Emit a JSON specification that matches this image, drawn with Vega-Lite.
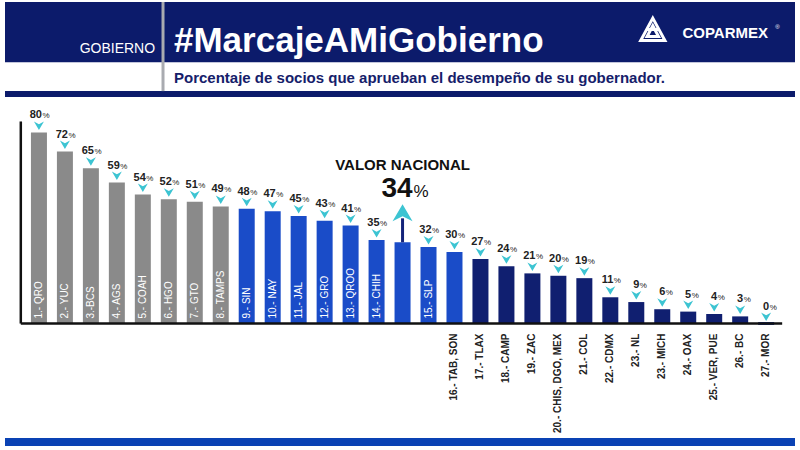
{
  "$schema": "https://vega.github.io/schema/vega-lite/v6.json",
  "width": 800,
  "height": 450,
  "autosize": {"type": "fit", "contains": "padding"},
  "padding": 0,
  "background": "white",
  "config": {"view": {"stroke": null}, "font": "Liberation Sans"},
  "datasets": {
    "estados": [
      {"i": 1, "estado": "1.- QRO", "valor": 80, "nivel": "alto"},
      {"i": 2, "estado": "2.- YUC", "valor": 72, "nivel": "alto"},
      {"i": 3, "estado": "3.-BCS", "valor": 65, "nivel": "alto"},
      {"i": 4, "estado": "4.- AGS", "valor": 59, "nivel": "alto"},
      {"i": 5, "estado": "5.- COAH", "valor": 54, "nivel": "alto"},
      {"i": 6, "estado": "6.- HGO", "valor": 52, "nivel": "alto"},
      {"i": 7, "estado": "7.- GTO", "valor": 51, "nivel": "alto"},
      {"i": 8, "estado": "8.- TAMPS", "valor": 49, "nivel": "alto"},
      {"i": 9, "estado": "9.- SIN", "valor": 48, "nivel": "medio"},
      {"i": 10, "estado": "10.- NAY", "valor": 47, "nivel": "medio"},
      {"i": 11, "estado": "11.- JAL", "valor": 45, "nivel": "medio"},
      {"i": 12, "estado": "12.- GRO", "valor": 43, "nivel": "medio"},
      {"i": 13, "estado": "13.- QROO", "valor": 41, "nivel": "medio"},
      {"i": 14, "estado": "14.- CHIH", "valor": 35, "nivel": "medio"},
      {"i": 15, "estado": "VALOR NACIONAL", "valor": 34, "nivel": "nacional"},
      {"i": 16, "estado": "15.- SLP", "valor": 32, "nivel": "medio"},
      {"i": 17, "estado": "16.- TAB, SON", "valor": 30, "nivel": "medio"},
      {"i": 18, "estado": "17.- TLAX", "valor": 27, "nivel": "bajo"},
      {"i": 19, "estado": "18.- CAMP", "valor": 24, "nivel": "bajo"},
      {"i": 20, "estado": "19.- ZAC", "valor": 21, "nivel": "bajo"},
      {"i": 21, "estado": "20.- CHIS, DGO, MEX", "valor": 20, "nivel": "bajo"},
      {"i": 22, "estado": "21.- COL", "valor": 19, "nivel": "bajo"},
      {"i": 23, "estado": "22.- CDMX", "valor": 11, "nivel": "bajo"},
      {"i": 24, "estado": "23.- NL", "valor": 9, "nivel": "bajo"},
      {"i": 25, "estado": "23.- MICH", "valor": 6, "nivel": "bajo"},
      {"i": 26, "estado": "24.- OAX", "valor": 5, "nivel": "bajo"},
      {"i": 27, "estado": "25.- VER, PUE", "valor": 4, "nivel": "bajo"},
      {"i": 28, "estado": "26.- BC", "valor": 3, "nivel": "bajo"},
      {"i": 29, "estado": "27.- MOR", "valor": 0, "nivel": "bajo"}
    ],
    "uno": [{}]
  },
  "data": {"name": "estados"},
  "layer": [
    {
      "data": {"name": "uno"},
      "mark": {"type": "rect", "color": "#0c1b6b"},
      "encoding": {
        "x": {"datum": -0.307, "type": "quantitative", "scale": {"domain": [-0.307, 30.111], "nice": false, "zero": false}, "axis": null},
        "x2": {"datum": 30.111},
        "y": {"datum": 134.58, "type": "quantitative", "scale": {"domain": [-52.92, 134.58], "nice": false, "zero": false}, "axis": null},
        "y2": {"datum": 109.38}
      }
    },
    {
      "data": {"name": "uno"},
      "mark": {"type": "rect", "color": "#0c1b6b"},
      "encoding": {
        "x": {"datum": -0.307, "type": "quantitative", "scale": {"domain": [-0.307, 30.111], "nice": false, "zero": false}, "axis": null},
        "x2": {"datum": 30.111},
        "y": {"datum": 97.29, "type": "quantitative", "scale": {"domain": [-52.92, 134.58], "nice": false, "zero": false}, "axis": null},
        "y2": {"datum": 94.79}
      }
    },
    {
      "data": {"name": "uno"},
      "mark": {"type": "rule", "color": "#a9abb0", "strokeWidth": 3},
      "encoding": {
        "x": {"datum": 5.777, "type": "quantitative", "scale": {"domain": [-0.307, 30.111], "nice": false, "zero": false}, "axis": null},
        "y": {"datum": 134.58, "type": "quantitative", "scale": {"domain": [-52.92, 134.58], "nice": false, "zero": false}, "axis": null},
        "y2": {"datum": 97.29}
      }
    },
    {
      "data": {"name": "uno"},
      "mark": {"type": "text", "text": "GOBIERNO", "color": "white", "fontSize": 14, "align": "right", "baseline": "alphabetic"},
      "encoding": {
        "x": {"datum": 5.4726, "type": "quantitative", "scale": {"domain": [-0.307, 30.111], "nice": false, "zero": false}, "axis": null},
        "y": {"datum": 113.33, "type": "quantitative", "scale": {"domain": [-52.92, 134.58], "nice": false, "zero": false}, "axis": null}
      }
    },
    {
      "data": {"name": "uno"},
      "mark": {"type": "text", "text": "#MarcajeAMiGobierno", "color": "white", "fontSize": 35, "fontWeight": "bold", "align": "left", "baseline": "alphabetic"},
      "encoding": {
        "x": {"datum": 6.2, "type": "quantitative", "scale": {"domain": [-0.307, 30.111], "nice": false, "zero": false}, "axis": null},
        "y": {"datum": 113.75, "type": "quantitative", "scale": {"domain": [-52.92, 134.58], "nice": false, "zero": false}, "axis": null}
      }
    },
    {
      "data": {"name": "uno"},
      "mark": {"type": "text", "text": "Porcentaje de socios que aprueban el desempeño de su gobernador.", "color": "#15206a", "fontSize": 15, "fontWeight": "bold", "align": "left", "baseline": "alphabetic"},
      "encoding": {
        "x": {"datum": 6.2, "type": "quantitative", "scale": {"domain": [-0.307, 30.111], "nice": false, "zero": false}, "axis": null},
        "y": {"datum": 100.83, "type": "quantitative", "scale": {"domain": [-52.92, 134.58], "nice": false, "zero": false}, "axis": null}
      }
    },
    {
      "data": {"name": "uno"},
      "mark": {"type": "point", "shape": "M0,-1 L0.95,0.75 L-0.95,0.75 Z M0,-0.4 L0.45,0.45 L-0.45,0.45 Z M-0.5,-0.1 L0.5,-0.1", "filled": false, "stroke": "white", "strokeWidth": 3, "size": 650, "opacity": 1},
      "encoding": {
        "x": {"datum": 24.636, "type": "quantitative", "scale": {"domain": [-0.307, 30.111], "nice": false, "zero": false}, "axis": null},
        "y": {"datum": 122.5, "type": "quantitative", "scale": {"domain": [-52.92, 134.58], "nice": false, "zero": false}, "axis": null}
      }
    },
    {
      "data": {"name": "uno"},
      "mark": {"type": "text", "text": "COPARMEX", "color": "white", "fontSize": 15, "fontWeight": "bold", "align": "left", "baseline": "alphabetic"},
      "encoding": {
        "x": {"datum": 25.777, "type": "quantitative", "scale": {"domain": [-0.307, 30.111], "nice": false, "zero": false}, "axis": null},
        "y": {"datum": 119.58, "type": "quantitative", "scale": {"domain": [-52.92, 134.58], "nice": false, "zero": false}, "axis": null}
      }
    },
    {
      "data": {"name": "uno"},
      "mark": {"type": "text", "text": "®", "color": "white", "fontSize": 6, "align": "left", "baseline": "alphabetic"},
      "encoding": {
        "x": {"datum": 29.35, "type": "quantitative", "scale": {"domain": [-0.307, 30.111], "nice": false, "zero": false}, "axis": null},
        "y": {"datum": 123.33, "type": "quantitative", "scale": {"domain": [-52.92, 134.58], "nice": false, "zero": false}, "axis": null}
      }
    },
    {
      "data": {"name": "uno"},
      "mark": {"type": "rect", "color": "#0a42b4"},
      "encoding": {
        "x": {"datum": -0.307, "type": "quantitative", "scale": {"domain": [-0.307, 30.111], "nice": false, "zero": false}, "axis": null},
        "x2": {"datum": 30.111},
        "y": {"datum": -47.92, "type": "quantitative", "scale": {"domain": [-52.92, 134.58], "nice": false, "zero": false}, "axis": null},
        "y2": {"datum": -51.25}
      }
    },
    {
      "mark": {"type": "bar", "width": 16},
      "encoding": {
        "x": {"field": "i", "type": "quantitative", "scale": {"domain": [-0.307, 30.111], "nice": false, "zero": false}, "axis": null},
        "y": {"field": "valor", "type": "quantitative", "scale": {"domain": [-52.92, 134.58], "nice": false, "zero": false}, "axis": null},
        "y2": {"datum": 0},
        "color": {"field": "nivel", "type": "nominal", "scale": {"domain": ["alto", "medio", "nacional", "bajo"], "range": ["#8a8a8a", "#1a4cc8", "#1a4cc8", "#101f70"]}, "legend": null},
        "stroke": {"field": "nivel", "type": "nominal", "scale": {"domain": ["alto", "medio", "nacional", "bajo"], "range": ["#8a8a8a", "#1a4cc8", "#1a4cc8", "#1e3a9a"]}, "legend": null},
        "strokeWidth": {"condition": {"test": "datum.valor === 0", "value": 3}, "value": 0}
      }
    },
    {
      "data": {"name": "uno"},
      "mark": {"type": "rule", "color": "#111111", "strokeWidth": 2.5},
      "encoding": {
        "x": {"datum": 0.3015, "type": "quantitative", "scale": {"domain": [-0.307, 30.111], "nice": false, "zero": false}, "axis": null},
        "y": {"datum": 84.58, "type": "quantitative", "scale": {"domain": [-52.92, 134.58], "nice": false, "zero": false}, "axis": null},
        "y2": {"datum": 0}
      }
    },
    {
      "data": {"name": "uno"},
      "mark": {"type": "rule", "color": "#111111", "strokeWidth": 2.5},
      "encoding": {
        "x": {"datum": 0.3015, "type": "quantitative", "scale": {"domain": [-0.307, 30.111], "nice": false, "zero": false}, "axis": null},
        "x2": {"datum": 29.617},
        "y": {"datum": 0, "type": "quantitative", "scale": {"domain": [-52.92, 134.58], "nice": false, "zero": false}, "axis": null}
      }
    },
    {
      "transform": [{"filter": "datum.nivel !== 'nacional'"}],
      "mark": {"type": "point", "shape": "M-1,-0.8 L0,-0.25 L1,-0.8 L0,0.9 Z", "filled": true, "color": "#3cc4d2", "size": 100, "opacity": 1, "yOffset": -7},
      "encoding": {
        "x": {"field": "i", "type": "quantitative", "scale": {"domain": [-0.307, 30.111], "nice": false, "zero": false}, "axis": null},
        "y": {"field": "valor", "type": "quantitative", "scale": {"domain": [-52.92, 134.58], "nice": false, "zero": false}, "axis": null}
      }
    },
    {
      "transform": [{"filter": "datum.nivel !== 'nacional'"}],
      "mark": {"type": "text", "fontSize": 11, "fontWeight": "bold", "color": "#222222", "align": "right", "baseline": "alphabetic", "dx": 3, "dy": -14},
      "encoding": {
        "x": {"field": "i", "type": "quantitative", "scale": {"domain": [-0.307, 30.111], "nice": false, "zero": false}, "axis": null},
        "y": {"field": "valor", "type": "quantitative", "scale": {"domain": [-52.92, 134.58], "nice": false, "zero": false}, "axis": null},
        "text": {"field": "valor", "type": "quantitative"}
      }
    },
    {
      "transform": [{"filter": "datum.nivel !== 'nacional'"}],
      "mark": {"type": "text", "text": "%", "fontSize": 8, "color": "#222222", "align": "left", "baseline": "alphabetic", "dx": 3.5, "dy": -14},
      "encoding": {
        "x": {"field": "i", "type": "quantitative", "scale": {"domain": [-0.307, 30.111], "nice": false, "zero": false}, "axis": null},
        "y": {"field": "valor", "type": "quantitative", "scale": {"domain": [-52.92, 134.58], "nice": false, "zero": false}, "axis": null}
      }
    },
    {
      "transform": [{"filter": "datum.i <= 16 && datum.nivel !== 'nacional'"}],
      "mark": {"type": "text", "fontSize": 10, "color": "white", "angle": 270, "align": "left", "baseline": "middle", "dx": 5},
      "encoding": {
        "x": {"field": "i", "type": "quantitative", "scale": {"domain": [-0.307, 30.111], "nice": false, "zero": false}, "axis": null},
        "y": {"datum": 0, "type": "quantitative", "scale": {"domain": [-52.92, 134.58], "nice": false, "zero": false}, "axis": null},
        "text": {"field": "estado"}
      }
    },
    {
      "transform": [{"filter": "datum.i >= 17"}],
      "mark": {"type": "text", "fontSize": 10, "fontWeight": "bold", "color": "#222222", "angle": 270, "align": "right", "baseline": "middle", "dx": -10},
      "encoding": {
        "x": {"field": "i", "type": "quantitative", "scale": {"domain": [-0.307, 30.111], "nice": false, "zero": false}, "axis": null},
        "y": {"datum": 0, "type": "quantitative", "scale": {"domain": [-52.92, 134.58], "nice": false, "zero": false}, "axis": null},
        "text": {"field": "estado"}
      }
    },
    {
      "transform": [{"filter": "datum.nivel === 'nacional'"}],
      "mark": {"type": "rule", "color": "#14237a", "strokeWidth": 3, "y2Offset": -24},
      "encoding": {
        "x": {"field": "i", "type": "quantitative", "scale": {"domain": [-0.307, 30.111], "nice": false, "zero": false}, "axis": null},
        "y": {"field": "valor", "type": "quantitative", "scale": {"domain": [-52.92, 134.58], "nice": false, "zero": false}, "axis": null},
        "y2": {"field": "valor"}
      }
    },
    {
      "transform": [{"filter": "datum.nivel === 'nacional'"}],
      "mark": {"type": "point", "shape": "M0,-0.9 L1,0.8 L0,0.3 L-1,0.8 Z", "filled": true, "color": "#3cc4d2", "size": 400, "opacity": 1, "yOffset": -29},
      "encoding": {
        "x": {"field": "i", "type": "quantitative", "scale": {"domain": [-0.307, 30.111], "nice": false, "zero": false}, "axis": null},
        "y": {"field": "valor", "type": "quantitative", "scale": {"domain": [-52.92, 134.58], "nice": false, "zero": false}, "axis": null}
      }
    },
    {
      "transform": [{"filter": "datum.nivel === 'nacional'"}],
      "mark": {"type": "text", "fontSize": 28, "fontWeight": "bold", "color": "#111111", "align": "right", "baseline": "alphabetic", "dx": 10, "dy": -45},
      "encoding": {
        "x": {"field": "i", "type": "quantitative", "scale": {"domain": [-0.307, 30.111], "nice": false, "zero": false}, "axis": null},
        "y": {"field": "valor", "type": "quantitative", "scale": {"domain": [-52.92, 134.58], "nice": false, "zero": false}, "axis": null},
        "text": {"field": "valor", "type": "quantitative"}
      }
    },
    {
      "transform": [{"filter": "datum.nivel === 'nacional'"}],
      "mark": {"type": "text", "text": "%", "fontSize": 17, "color": "#111111", "align": "left", "baseline": "alphabetic", "dx": 11, "dy": -45},
      "encoding": {
        "x": {"field": "i", "type": "quantitative", "scale": {"domain": [-0.307, 30.111], "nice": false, "zero": false}, "axis": null},
        "y": {"field": "valor", "type": "quantitative", "scale": {"domain": [-52.92, 134.58], "nice": false, "zero": false}, "axis": null}
      }
    },
    {
      "transform": [{"filter": "datum.nivel === 'nacional'"}],
      "mark": {"type": "text", "fontSize": 15, "fontWeight": "bold", "color": "#111111", "align": "center", "baseline": "alphabetic", "dy": -72},
      "encoding": {
        "x": {"field": "i", "type": "quantitative", "scale": {"domain": [-0.307, 30.111], "nice": false, "zero": false}, "axis": null},
        "y": {"field": "valor", "type": "quantitative", "scale": {"domain": [-52.92, 134.58], "nice": false, "zero": false}, "axis": null},
        "text": {"field": "estado"}
      }
    }
  ]
}
